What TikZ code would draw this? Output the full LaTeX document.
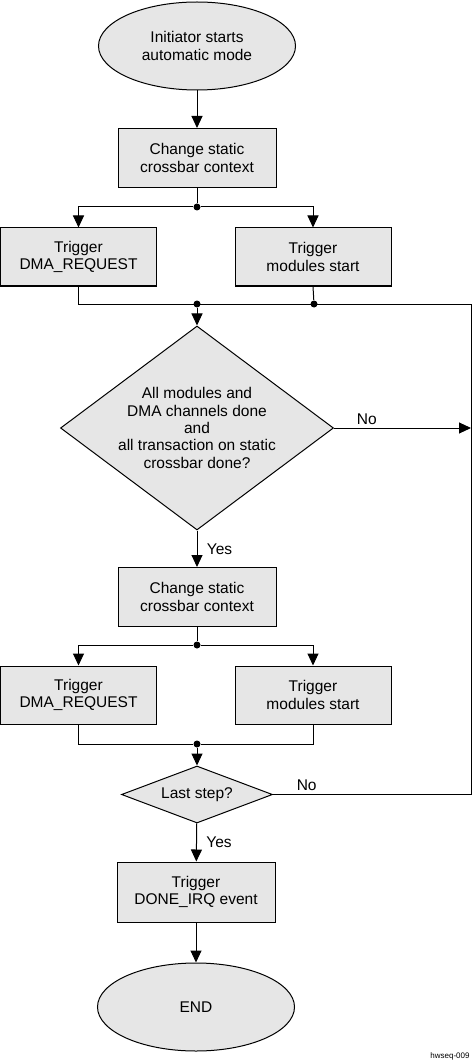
\documentclass[tikz,border=0pt]{standalone}
\usepackage{fontspec}
\setmainfont{Liberation Sans}
\usepackage{tikz}
\usetikzlibrary{shapes.geometric,arrows.meta}
\definecolor{boxgray}{HTML}{E6E6E6}
\tikzset{
  every node/.style={font=\fontsize{15.5}{17.4}\selectfont},
  proc/.style={draw,fill=boxgray,align=center,inner sep=0pt,minimum width=158pt,minimum height=59pt},
  term/.style={draw,fill=boxgray,ellipse,align=center,inner sep=0pt,minimum width=197pt,minimum height=88pt},
  ask/.style={draw,fill=boxgray,diamond,align=center,inner sep=0pt},
  dot/.style={circle,fill=black,inner sep=0pt,minimum size=7pt},
  arr/.style={-{Triangle[width=11pt,length=12pt]}}
}

\begin{document}
\begin{tikzpicture}[x=1pt,y=-1pt,line width=1pt]
\useasboundingbox (0,0) rectangle (473,1064);
\node[term] (start) at (197,46) {Initiator starts\\automatic mode};
\node[proc] (ctx1) at (197,158) {Change static\\crossbar context};
\node[dot] (j1) at (197,207) {};
\node[proc,minimum width=156pt,minimum height=58pt] (dma1) at (78.5,257) {Trigger\\DMA\_REQUEST};
\node[proc,minimum width=156pt,minimum height=58pt] (mod1) at (313,257) {Trigger\\modules start};
\node[dot] (m1) at (197,304) {};
\node[dot] (n1) at (314,304) {};
\coordinate (r1) at (471,304);
\node[ask,aspect=1.34,minimum width=273pt,minimum height=204pt] (chk) at (197,428) {All modules and\\DMA channels done\\and\\all transaction on static\\crossbar done?};
\node[proc] (ctx2) at (197,597) {Change static\\crossbar context};
\node[dot] (j2) at (197,645) {};
\node[proc,minimum width=156pt,minimum height=58pt] (dma2) at (78.5,695) {Trigger\\DMA\_REQUEST};
\node[proc,minimum width=156pt,minimum height=58pt] (mod2) at (313,695) {Trigger\\modules start};
\node[dot] (m2) at (197,744) {};
\node[ask,aspect=2.65,minimum width=151pt,minimum height=57pt] (last) at (197,794.5) {Last step?};
\coordinate (r3) at (471,794.5);
\node[proc,minimum height=60pt] (irq) at (196,892) {Trigger\\DONE\_IRQ event};
\node[term] (stop) at (196,1007) {END};
\node[font=\fontsize{8}{9}\selectfont] (tag) at (450,1056) {hwseq-009};
% first group
\draw[arr] (start) -- (ctx1);
\draw (ctx1) -- (j1);
\draw[arr] (j1) -| (dma1.north);
\draw[arr] (j1) -| (mod1.north);
\draw (dma1.south) |- (r1);
\draw (mod1.south) -- (n1);
\draw[arr] (m1) -- (chk);
\draw[arr] (chk.east) -- node[pos=.24,above]{No} (r1 |- chk.east);
\draw[arr] (chk) -- node[right,xshift=6pt]{Yes} (ctx2);
% second group
\draw (ctx2) -- (j2);
\draw[arr] (j2) -| (dma2.north);
\draw[arr] (j2) -| (mod2.north);
\draw (dma2.south) |- (m2) -| (mod2.south);
\draw[arr] (m2) -- (last);
\draw (last.east) -- node[pos=.17,above]{No} (r3) -- (r1);
\draw[arr] (last) -- node[right,xshift=6pt]{Yes} (irq);
\draw[arr] (irq) -- (stop);
\end{tikzpicture}
\end{document}
